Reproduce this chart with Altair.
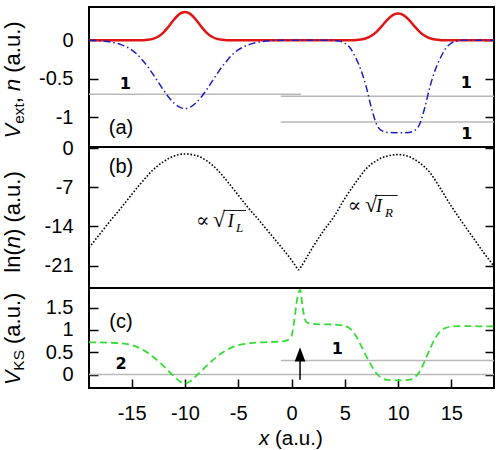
import altair as alt
import pandas as pd

# ---------------- data ----------------
# panel (a): external potential V_ext(x)  (blue dash-dot)
vext_x = [-19, -18, -17, -16, -15, -14.5, -14, -13.5, -13, -12.5, -12, -11.5, -11, -10.5, -10,
          -9.5, -9, -8.5, -8, -7.5, -7, -6.5, -6, -5.5, -5, -4, -3, -2, -1, 0, 4, 4.5, 5, 5.5,
          6, 6.5, 7, 7.5, 8, 8.5, 9, 10, 11, 11.5, 12, 12.5, 13, 13.5, 14, 14.5, 15, 15.5, 16, 19]
vext_v = [0, -0.005, -0.02, -0.055, -0.125, -0.18, -0.255, -0.34, -0.44, -0.545, -0.65, -0.745,
          -0.82, -0.87, -0.89, -0.87, -0.82, -0.745, -0.65, -0.545, -0.44, -0.34, -0.255, -0.18,
          -0.125, -0.055, -0.02, -0.005, 0, 0, 0, -0.01, -0.035, -0.1, -0.22, -0.38, -0.6, -0.88,
          -1.1, -1.18, -1.2, -1.205, -1.2, -1.18, -1.1, -0.88, -0.6, -0.38, -0.22, -0.1, -0.035,
          -0.01, 0, 0]

# panel (a): density n(x)  (red solid)
n_x = [-19, -14.5, -14, -13.5, -13, -12.5, -12, -11.5, -11, -10.5, -10, -9.5, -9, -8.5, -8, -7.5,
       -7, -6.5, -6, -5.5, 5.5, 6, 6.5, 7, 7.5, 8, 8.5, 9, 9.5, 10, 10.5, 11, 11.5, 12, 12.5, 13,
       13.5, 14, 14.5, 19]
n_v = [0, 0, 0.002, 0.007, 0.02, 0.05, 0.105, 0.185, 0.275, 0.345, 0.37, 0.345, 0.275, 0.185,
       0.105, 0.05, 0.02, 0.007, 0.002, 0, 0, 0.003, 0.01, 0.027, 0.06, 0.115, 0.19, 0.27, 0.33,
       0.35, 0.33, 0.27, 0.19, 0.115, 0.06, 0.027, 0.01, 0.003, 0, 0]

# panel (a): grey levels and occupation labels
lev_a_x1 = [-19, -1.0, -1.0]
lev_a_x2 = [0.9, 19, 19]
lev_a_y = [-0.703, -0.729, -1.064]
occ_a_x = [-15.6, 16.4, 16.45]
occ_a_y = [-0.575, -0.562, -1.225]
occ_a_t = ["1", "1", "1"]

# panel (b): ln(n)  (black dotted)
ln_x = [-19, -18, -17, -16, -15, -14, -13, -12, -11, -10, -9, -8, -7, -6, -5, -4, -3, -2, -1, 0,
        0.4, 0.65, 0.9, 1.5, 2, 3, 4, 5, 6, 7, 8, 9, 10, 11, 12, 13, 14, 15, 16, 17, 18, 19]
ln_v = [-17.8, -15.4, -13.0, -10.7, -8.3, -6.0, -3.9, -2.4, -1.4, -1.05, -1.3, -2.2, -3.8, -6.0,
        -8.4, -10.8, -13.0, -15.3, -17.6, -20.0, -21.1, -21.75, -21.2, -19.3, -17.7, -14.8, -12.2,
        -9.0, -6.2, -3.7, -2.2, -1.4, -1.15, -1.5, -2.6, -4.4, -7.3, -10.4, -13.2, -15.9, -18.6,
        -21.1]

# panel (c): Kohn-Sham potential V_KS(x)  (green dashed)
vks_x = [-19, -18, -17, -16, -15, -14.5, -14, -13.5, -13, -12.5, -12, -11.5, -11, -10.5, -10,
         -9.5, -9, -8.5, -8, -7.5, -7, -6.5, -6, -5.5, -5, -4, -3, -2, -1, -0.5, -0.2, 0, 0.25,
         0.55, 0.8, 1.05, 1.25, 1.5, 2, 3, 4, 4.5, 5, 5.5, 6, 6.5, 7, 7.5, 8, 8.5, 9, 10, 11, 11.5,
         12, 12.5, 13, 13.5, 14, 14.5, 15, 16, 17, 18, 19]
vks_v = [0.72, 0.72, 0.715, 0.70, 0.66, 0.62, 0.56, 0.49, 0.40, 0.30, 0.19, 0.07, -0.04, -0.15,
         -0.2, -0.15, -0.04, 0.07, 0.19, 0.30, 0.40, 0.49, 0.56, 0.62, 0.66, 0.70, 0.72, 0.73,
         0.74, 0.76, 0.80, 0.86, 1.2, 1.72, 1.9, 1.5, 1.24, 1.16, 1.135, 1.125, 1.12, 1.11, 1.09,
         1.03, 0.88, 0.66, 0.42, 0.2, 0.02, -0.08, -0.12, -0.13, -0.12, -0.07, 0.06, 0.3, 0.58,
         0.82, 0.98, 1.05, 1.075, 1.085, 1.085, 1.08, 1.08]

# panel (c): grey levels, occupation labels, arrow
lev_c_x1 = [-19, -1.0]
lev_c_x2 = [19, 19]
lev_c_y = [0.0, 0.316]
occ_c_x = [-16.0, 4.3]
occ_c_y = [0.242, 0.569]
occ_c_t = ["2", "1"]
arrow_x = [0.8]
arrow_y0 = [-0.116]
arrow_y1 = [0.36]
arrow_head = [0.453]

# ticks
x_ticks = [-15, -10, -5, 0, 5, 10, 15]
a_ticks = [0, -0.5, -1]
b_ticks = [0, -7, -14, -21]
c_ticks = [0, 0.5, 1, 1.5]

# ---------------- styling ----------------
SANS = "Liberation Sans"
SERIF = "Liberation Serif, DejaVu Serif"
BOLDF = "DejaVu Sans"
RED = "#e01515"
BLUE = "#1c1cc4"
GREEN = "#33dd33"
GRAY = "#b8b8b8"
W = 405
HA, HB, HC = 140, 141, 100
LABEL_EXPR = "replace(format(datum.value, ''), '\u2212', '-')"

XS = alt.Scale(domain=[-19, 19], nice=False, zero=False)
YA = alt.Scale(domain=[-1.39, 0.435], nice=False, zero=False)
YB = alt.Scale(domain=[-25, 0.2], nice=False, zero=False)
YC = alt.Scale(domain=[-0.3, 1.94], nice=False, zero=False)


def left_axis(vals):
    return alt.Axis(orient="left", values=vals, offset=-9, tickSize=9, tickWidth=1.5,
                    tickColor="black", domain=False, grid=False, labelFont=SANS,
                    labelFontSize=20, labelColor="black", labelPadding=16,
                    labelExpr=LABEL_EXPR, labelOverlap=False, title=None)


def right_axis(vals):
    return alt.Axis(orient="right", values=vals, offset=-9, tickSize=9, tickWidth=1.5,
                    tickColor="black", domain=False, grid=False, labels=False, title=None)


def txt(s, x, y, size=20, style="normal", weight="normal", font=SANS, angle=0,
        align="left", baseline="alphabetic"):
    return alt.Chart(pd.DataFrame({"t": [s]})).mark_text(
        font=font, fontSize=size, fontStyle=style, fontWeight=weight, angle=angle,
        align=align, baseline=baseline, color="black"
    ).encode(x=alt.value(x), y=alt.value(y), text="t:N")


HELV = {"V": 667, "e": 556, "x": 500, "t": 278, ",": 278, " ": 278, "n": 556, "(": 333,
        ")": 333, "a": 556, ".": 278, "u": 556, "l": 222, "K": 667, "S": 667}


def adv(s, size):
    return sum(HELV[c] for c in s) * size / 1000.0


def ytitle(pieces, xb, y0):
    out = []
    y = y0
    for text, size, style, shift, lead in pieces:
        y -= lead
        out.append(txt(text, xb + shift, y, size, style, angle=270))
        y -= adv(text, size)
    return out


TS = 22
SUB = 15.4
SP = adv(" ", TS)

# ---------------- panel (a) ----------------
lev_a = alt.Chart(pd.DataFrame({"x1": lev_a_x1, "x2": lev_a_x2, "y": lev_a_y})).mark_rule(
    color=GRAY, strokeWidth=1.5).encode(
    x=alt.X("x1:Q", scale=XS, axis=None), x2="x2:Q",
    y=alt.Y("y:Q", scale=YA, axis=right_axis(a_ticks)))
red = alt.Chart(pd.DataFrame({"x": n_x, "v": n_v})).mark_line(
    color=RED, strokeWidth=2.5, interpolate="monotone", clip=True).encode(
    x=alt.X("x:Q", scale=XS, axis=None), y=alt.Y("v:Q", scale=YA, axis=None))
blue = alt.Chart(pd.DataFrame({"x": vext_x, "v": vext_v})).mark_line(
    color=BLUE, strokeWidth=1.5, strokeDash=[7, 3, 1.5, 3], interpolate="monotone",
    clip=True).encode(
    x=alt.X("x:Q", scale=XS, axis=None), y=alt.Y("v:Q", scale=YA, axis=left_axis(a_ticks)))
occ_a = alt.Chart(pd.DataFrame({"x": occ_a_x, "y": occ_a_y, "t": occ_a_t})).mark_text(
    font=BOLDF, fontWeight="bold", fontSize=16, color="black", align="center",
    baseline="middle").encode(
    x=alt.X("x:Q", scale=XS, axis=None), y=alt.Y("y:Q", scale=YA, axis=None), text="t:N")
anchor = alt.Chart(pd.DataFrame({"a": [0]})).mark_rect(color="white").encode(
    x=alt.value(-88), x2=alt.value(-87), y=alt.value(-6), y2=alt.value(-5))

title_a = ytitle([("V", TS, "italic", 0, 0), ("ext", SUB, "normal", 3.5, 0),
                  (",", TS, "normal", 0, 0), ("n", TS, "italic", 0, SP),
                  ("(a.u.)", TS, "normal", 0, SP)], -69, 131.5)

panel_a = alt.layer(anchor, lev_a, red, blue, occ_a, txt("(a)", 32, 121, 20, align="center",
                                                           baseline="middle"),
                    *title_a).resolve_axis(y="independent").properties(width=W, height=HA)

# ---------------- panel (b) ----------------
dots = alt.Chart(pd.DataFrame({"x": ln_x, "v": ln_v})).mark_line(
    color="black", strokeWidth=1.6, strokeDash=[1.6, 1.8], interpolate="monotone",
    clip=True).encode(
    x=alt.X("x:Q", scale=XS, axis=None), y=alt.Y("v:Q", scale=YB, axis=left_axis(b_ticks)))
b_right = alt.Chart(pd.DataFrame({"x": [0], "v": [0]})).mark_point(opacity=0).encode(
    x=alt.X("x:Q", scale=XS, axis=None), y=alt.Y("v:Q", scale=YB, axis=right_axis(b_ticks)))

ann = [
    txt("\u221d", 107, 80.2, 20, font=SERIF),
    txt("\u221a", 124, 80.2, 22, font=SERIF),
    txt("I", 138.7, 80.2, 18, style="italic", font=SERIF),
    txt("L", 147, 84.5, 13, style="italic", font=SERIF),
    txt("\u221d", 258.7, 65.2, 20, font=SERIF),
    txt("\u221a", 276, 65.2, 22, font=SERIF),
    txt("I", 287, 65.2, 18, style="italic", font=SERIF),
    txt("R", 296, 69.5, 13, style="italic", font=SERIF),
]
bar_x1 = [134.5, 286]
bar_x2 = [157, 308.7]
bar_y = [63.5, 48.5]
bars = [alt.Chart(pd.DataFrame({"a": [0]})).mark_rule(color="black", strokeWidth=0.9).encode(
    x=alt.value(bar_x1[i]), x2=alt.value(bar_x2[i]), y=alt.value(bar_y[i])) for i in range(2)]

title_b = ytitle([("ln(", TS, "normal", 0, 0), ("n", TS, "italic", 0, 0),
                  (")", TS, "normal", 0, 0), ("(a.u.)", TS, "normal", 0, SP)], -69, 125.7)

panel_b = alt.layer(dots, b_right, *ann, *bars,
                    txt("(b)", 32, 20.2, 20, align="center", baseline="middle"),
                    *title_b).resolve_axis(y="independent").properties(width=W, height=HB)

# ---------------- panel (c) ----------------
x_axis = alt.Axis(orient="bottom", values=x_ticks, offset=-9, tickSize=9, tickWidth=1.5,
                  tickColor="black", domain=False, grid=False, labelFont=SANS, labelFontSize=20,
                  labelColor="black", labelPadding=15, labelExpr=LABEL_EXPR, labelFlush=False,
                  labelOverlap=False, title=None)
lev_c = alt.Chart(pd.DataFrame({"x1": lev_c_x1, "x2": lev_c_x2, "y": lev_c_y})).mark_rule(
    color=GRAY, strokeWidth=1.5).encode(
    x=alt.X("x1:Q", scale=XS, axis=x_axis), x2="x2:Q",
    y=alt.Y("y:Q", scale=YC, axis=right_axis(c_ticks)))
green = alt.Chart(pd.DataFrame({"x": vks_x, "v": vks_v})).mark_line(
    color=GREEN, strokeWidth=1.8, strokeDash=[7, 4], interpolate="monotone", clip=True).encode(
    x=alt.X("x:Q", scale=XS, axis=None), y=alt.Y("v:Q", scale=YC, axis=left_axis(c_ticks)))
occ_c = alt.Chart(pd.DataFrame({"x": occ_c_x, "y": occ_c_y, "t": occ_c_t})).mark_text(
    font=BOLDF, fontWeight="bold", fontSize=16, color="black", align="center",
    baseline="middle").encode(
    x=alt.X("x:Q", scale=XS, axis=None), y=alt.Y("y:Q", scale=YC, axis=None), text="t:N")
adf = pd.DataFrame({"x": arrow_x, "y0": arrow_y0, "y1": arrow_y1, "h": arrow_head})
shaft = alt.Chart(adf).mark_rule(color="black", strokeWidth=1.5).encode(
    x=alt.X("x:Q", scale=XS, axis=None), y=alt.Y("y0:Q", scale=YC, axis=None), y2="y1:Q")
head = alt.Chart(adf).mark_point(shape="M0,-1L0.75,1L-0.75,1Z", filled=True, color="black",
                                 opacity=1, size=204, strokeWidth=0).encode(
    x=alt.X("x:Q", scale=XS, axis=None), y=alt.Y("h:Q", scale=YC, axis=None))

title_c = ytitle([("V", TS, "italic", 0, 0), ("KS", SUB, "normal", 3.5, 0),
                  ("(a.u.)", TS, "normal", 0, SP)], -69, 97.3)
xt = [txt("x", 170, 157, 20.5, style="italic"),
      txt("(a.u.)", 170 + adv("x ", 20.5), 157, 20.5)]

panel_c = alt.layer(lev_c, green, occ_c, shaft, head,
                    txt("(c)", 32, 34.2, 20, align="center", baseline="middle"),
                    *title_c, *xt).resolve_axis(x="independent", y="independent").properties(
    width=W, height=HC)

chart = alt.vconcat(panel_a, panel_b, panel_c, spacing=0, bounds="flush").properties(
    padding=0).configure_view(stroke="black", strokeWidth=2)

chart.save("out.html", embed_options={"renderer": "svg", "actions": False})
